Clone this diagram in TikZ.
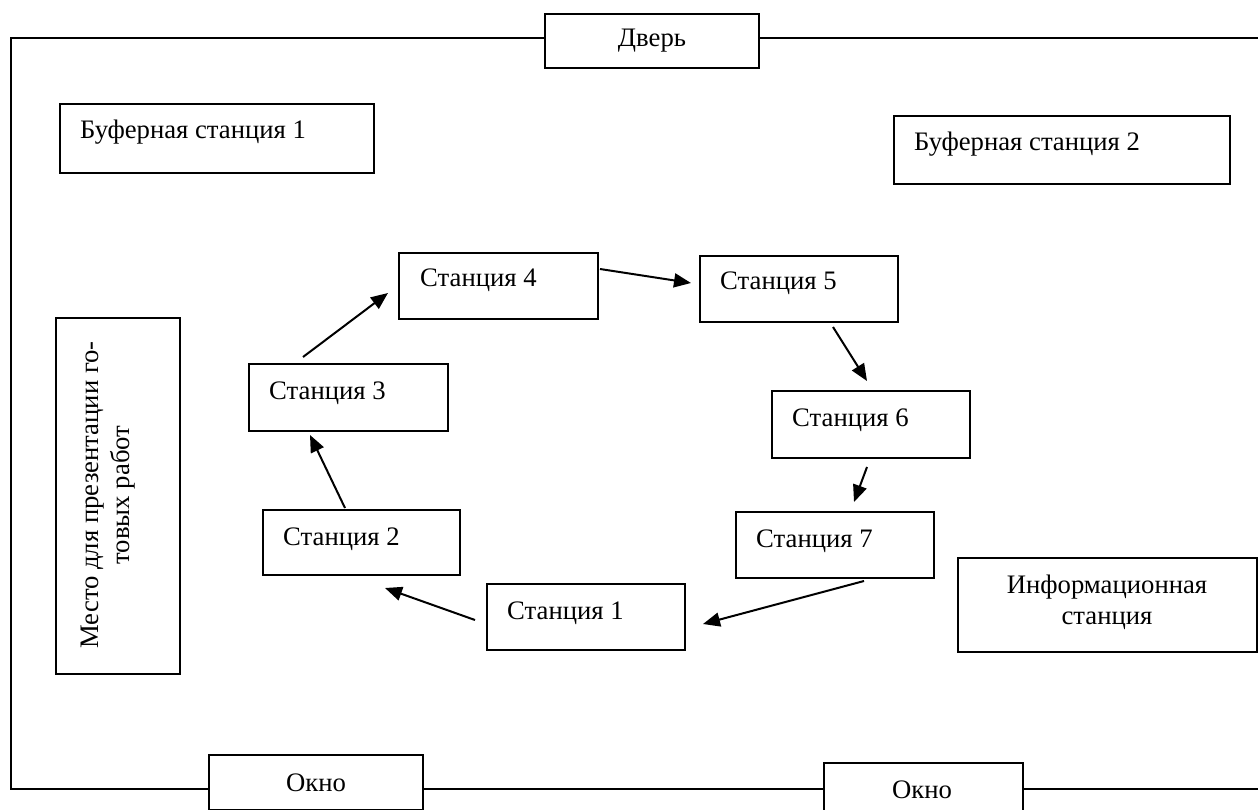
\documentclass[tikz,border=0pt]{standalone}
\usepackage{fontspec}
\setmainfont{Liberation Serif}
\usetikzlibrary{arrows.meta,calc}
\newcommand\labfont{\fontsize{26.7pt}{31pt}\selectfont}
\tikzset{
  box/.style={draw=black, line width=2pt, fill=white, anchor=north west, inner sep=0pt},
  txt/.style={anchor=base west, inner sep=0pt, font=\labfont},
  ctxt/.style={inner sep=0pt, font=\labfont, align=center},
  flow/.style={line width=2pt, -{Triangle[length=17pt,width=14pt]}},
  wall/.style={line width=2pt}
}
\begin{document}
\begin{tikzpicture}[x=1pt,y=-1pt]
\useasboundingbox (0,0) rectangle (1258,810);
% walls
\coordinate (tr) at (1258,38);
\coordinate (tl) at (11,38);
\coordinate (bl) at (11,789);
\coordinate (br) at (1258,789);
\draw[wall] (tr) -- (tl) -- (bl) -- (br);
% door and windows
\node[box, minimum width=214pt, minimum height=54pt] (door) at (544,13) {};
\node[ctxt] (doort) at (door.center) {Дверь};
\node[box, minimum width=214pt, minimum height=55pt] (win1) at (208,754) {};
\node[ctxt] (win1t) at (win1.center) {Окно};
\node[box, minimum width=199pt, minimum height=54pt] (win2) at (823,762) {};
\node[ctxt] (win2t) at (922,790) {Окно};
% buffer stations
\node[box, minimum width=314pt, minimum height=69pt] (buf1) at (59,103) {};
\node[txt] (buf1t) at ($(buf1.north west)+(21,36)$) {Буферная станция 1};
\node[box, minimum width=336pt, minimum height=68pt] (buf2) at (893,115) {};
\node[txt] (buf2t) at ($(buf2.north west)+(21,36)$) {Буферная станция 2};
% presentation area
\node[box, minimum width=124pt, minimum height=356pt] (pres) at (55,317) {};
\node[ctxt, rotate=90] (prest) at (108,495) {Место для презентации го-\\товых работ};
% information station
\node[box, minimum width=299pt, minimum height=94pt] (info) at (957,557) {};
\node[ctxt, anchor=base] (infot) at (1107,624) {Информационная\\станция};
% stations
\node[box, minimum width=198pt, minimum height=66pt] (s1) at (486,583) {};
\node[txt] (s1t) at ($(s1.north west)+(21,36)$) {Станция 1};
\node[box, minimum width=197pt, minimum height=65pt] (s2) at (262,509) {};
\node[txt] (s2t) at ($(s2.north west)+(21,36)$) {Станция 2};
\node[box, minimum width=199pt, minimum height=67pt] (s3) at (248,363) {};
\node[txt] (s3t) at ($(s3.north west)+(21,36)$) {Станция 3};
\node[box, minimum width=199pt, minimum height=66pt] (s4) at (398,252) {};
\node[txt] (s4t) at ($(s4.north west)+(22,35)$) {Станция 4};
\node[box, minimum width=198pt, minimum height=66pt] (s5) at (699,255) {};
\node[txt] (s5t) at ($(s5.north west)+(21,35)$) {Станция 5};
\node[box, minimum width=198pt, minimum height=67pt] (s6) at (771,390) {};
\node[txt] (s6t) at ($(s6.north west)+(21,36)$) {Станция 6};
\node[box, minimum width=198pt, minimum height=66pt] (s7) at (735,511) {};
\node[txt] (s7t) at ($(s7.north west)+(21,36)$) {Станция 7};
% arrow end points
\coordinate (a1s) at (475,620); \coordinate (a1e) at (385,588);
\coordinate (a2s) at (345,508); \coordinate (a2e) at (310,435);
\coordinate (a3s) at (303,357); \coordinate (a3e) at (388,293);
\coordinate (a4s) at (600,269); \coordinate (a4e) at (691,283);
\coordinate (a5s) at (833,327); \coordinate (a5e) at (867,381);
\coordinate (a6s) at (867,467); \coordinate (a6e) at (854,502);
\coordinate (a7s) at (864,581); \coordinate (a7e) at (703,624);
\draw[flow] (a1s) -- (a1e);
\draw[flow] (a2s) -- (a2e);
\draw[flow] (a3s) -- (a3e);
\draw[flow] (a4s) -- (a4e);
\draw[flow] (a5s) -- (a5e);
\draw[flow] (a6s) -- (a6e);
\draw[flow] (a7s) -- (a7e);
\end{tikzpicture}
\end{document}
